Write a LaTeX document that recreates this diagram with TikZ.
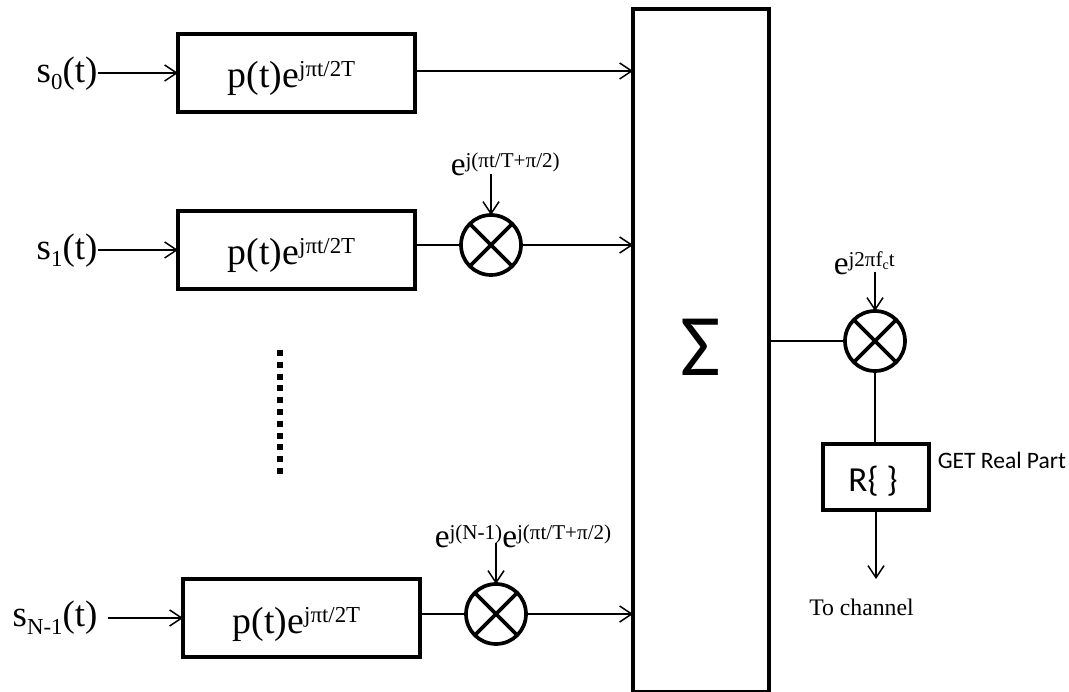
\documentclass[tikz,border=0pt]{standalone}
\usepackage{fontspec}
\setmainfont{Liberation Serif}
\newfontfamily\calfont{Carlito}
\usetikzlibrary{arrows.meta}
\newcommand{\supr}[1]{\raisebox{0.22cm}{\fontsize{13}{13}\selectfont #1}}
\newcommand{\supm}[1]{\raisebox{0.17cm}{\fontsize{12}{12}\selectfont #1}}
\newcommand{\subr}[1]{\raisebox{-0.14cm}{\fontsize{13}{13}\selectfont #1}}
\newcommand{\pulse}{\hspace*{-0.2cm}\raisebox{-0.3cm}[0pt][0pt]{p(t)e\supr{jπt/2T}}}

\begin{document}
\begin{tikzpicture}[x=1cm,y=1cm,line width=0.85pt,
  arr/.style={-{Straight Barb[length=0.24cm,width=0.32cm]}},
  pbox/.style={draw,line width=2.2pt,outer sep=0pt,minimum width=4.74cm,minimum height=1.56cm,inner sep=0pt,text height=0pt,text depth=0pt,font=\fontsize{21.5}{21.5}\selectfont},
  mix/.style={draw,circle,line width=2.1pt,outer sep=0pt,minimum size=1.2cm,inner sep=0pt},
  lab/.style={inner sep=0pt,anchor=base west,font=\fontsize{21}{21}\selectfont},
  exlab/.style={inner sep=0pt,anchor=base west,font=\fontsize{19}{19}\selectfont}]
\useasboundingbox (0,0) rectangle (21.38,13.82);
% blocks
\node[pbox] (box0) at (5.93,12.36) {\pulse};
\node[pbox] (box1) at (5.93,8.82) {\pulse};
\node[pbox] (box2) at (6.03,1.46) {\pulse};
\node[draw,line width=2.4pt,outer sep=0pt,minimum width=2.72cm,minimum height=13.66cm,inner sep=0pt] (sum) at (14.02,6.81) {};
\node[inner sep=0pt,font=\calfont\fontsize{50}{50}\selectfont] (sigma) at (14.02,6.87) {Σ};
\node[mix] (mix1) at (9.82,8.92) {};
\node[mix] (mix2) at (9.92,1.54) {};
\node[mix] (mix3) at (17.50,7.00) {};
\node[draw,line width=2.1pt,outer sep=0pt,minimum width=2.12cm,minimum height=1.32cm,inner sep=0pt] (rbox) at (17.52,4.28) {};
\node[inner sep=0pt,font=\calfont\fontsize{20}{20}\selectfont] (rtxt) at (17.46,4.20) {R\{ \}};
% labels
\node[lab] (s0) at (0.72,12.16) {s\subr{0}(t)};
\node[lab] (s1) at (0.72,8.62) {s\subr{1}(t)};
\node[lab] (s2) at (0.24,1.28) {s\subr{N-1}(t)};
\node[exlab] (e1) at (9.00,10.30) {e\supm{j(πt/T+π/2)}};
\node[exlab] (e2) at (8.68,2.86) {e\supm{j(N-1)}e\supm{j(πt/T+π/2)}};
\node[exlab] (e3) at (16.66,8.32) {e\supm{j2πf\raisebox{-0.06cm}{\fontsize{8}{8}\selectfont c}t}};
\node[inner sep=0pt,anchor=west,font=\calfont\fontsize{13.4}{13.4}\selectfont] (get) at (18.74,4.62) {GET Real Part};
\node[inner sep=0pt,font=\fontsize{13.5}{13.5}\selectfont] (chan) at (17.23,1.68) {To channel};
\coordinate (c1) at (9.82,10.34);
\coordinate (c2) at (9.92,2.96);
\coordinate (c3) at (17.50,8.38);
\coordinate (c4) at (17.52,2.24);
% crosses
\foreach \m in {mix1,mix2,mix3}{
  \draw[line width=2.1pt] (\m.north west) -- (\m.south east);
  \draw[line width=2.1pt] (\m.north east) -- (\m.south west);
}
% connectors
\draw[arr] (s0.east |- box0.west) -- (box0.west);
\draw[arr] (s1.east |- box1.west) -- (box1.west);
\draw[arr] ([xshift=0.2cm]s2.east |- box2.west) -- (box2.west);
\draw[arr] ([yshift=0.04cm]box0.east) -- ([yshift=0.04cm]box0.east -| sum.west);
\draw (box1.east |- mix1.west) -- (mix1.west);
\draw[arr] (mix1.east) -- (mix1.east -| sum.west);
\draw (box2.east |- mix2.west) -- (mix2.west);
\draw[arr] (mix2.east) -- (mix2.east -| sum.west);
\draw[arr] (c1) -- (mix1.north);
\draw[arr] (c2) -- (mix2.north);
\draw[arr] (c3) -- (mix3.north);
\draw (mix3.west -| sum.east) -- (mix3.west);
\draw (mix3.south) -- (mix3.south |- rbox.north);
\draw[arr] (rbox.south) -- (c4);
\draw[line width=0.12cm,dash pattern=on 0.12cm off 0.116cm] (5.59,6.82) -- (5.59,4.34);
\end{tikzpicture}
\end{document}
